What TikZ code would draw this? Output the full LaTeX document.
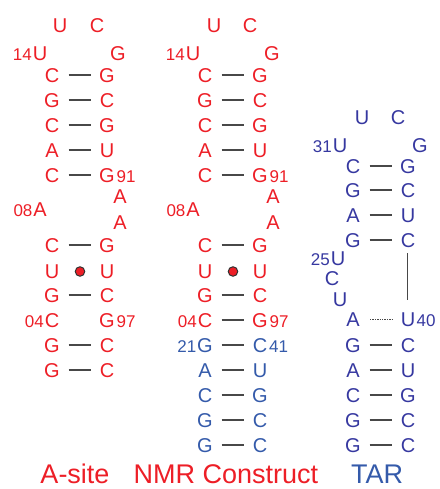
\documentclass[tikz,border=0pt]{standalone}
\usepackage{fontspec}
\setmainfont{Liberation Sans}
\definecolor{rnared}{RGB}{237,30,38}
\definecolor{rnablue}{RGB}{52,90,170}
\definecolor{tarblue}{RGB}{54,56,160}
\definecolor{bondgray}{RGB}{72,72,72}
\begin{document}
\begin{tikzpicture}[x=1pt,y=-1pt,
  nt/.style={font=\fontsize{20}{20}\selectfont, inner sep=0pt,
             text height=14.3pt, text depth=0pt},
  numl/.style={font=\fontsize{17}{17}\selectfont, inner sep=0pt, anchor=base east},
  numr/.style={font=\fontsize{17}{17}\selectfont, inner sep=0pt, anchor=base west},
  bond/.style={draw=bondgray, line width=1.3pt, shorten <=16.5pt, shorten >=16.5pt},
  weakbond/.style={draw=bondgray, line width=0.9pt, dash pattern=on 1.3pt off 1.1pt,
                   shorten <=17pt, shorten >=16pt},
  wobble/.style={circle, inner sep=0pt, minimum size=9.5pt, fill=rnared,
                 draw=black!80, line width=1pt},
  title/.style={font=\fontsize{27}{27}\selectfont, inner sep=0pt, anchor=base}]
\useasboundingbox (0,0) rectangle (439,489);

% ---------------- A-site (red) ----------------
\begin{scope}[rnared]
  \node[nt] (aLU) at (60,25) {U};
  \node[nt] (aLC) at (97,25) {C};
  \node[nt] (aU14) at (40,53) {U};
  \node[numl] (a14) at ([xshift=-0.5pt]aU14.base west) {14};
  \node[nt] (aG) at (118,53) {G};
  \foreach \y/\l/\r [count=\i] in {75/C/G,100/G/C,125/C/G,150/A/U,175/C/G}{
    \node[nt] (aL\i) at (52,\y) {\l};
    \node[nt] (aR\i) at (107,\y) {\r};
    \draw[bond] (aL\i.center) -- (aR\i.center);
  }
  \node[numr] (a91) at ([xshift=1.5pt]aR5.base east) {91};
  \node[nt] (aA1) at (120,196) {A};
  \node[nt] (aA08) at (40,209) {A};
  \node[numl] (a08) at ([xshift=-0.5pt]aA08.base west) {08};
  \node[nt] (aA2) at (120,222) {A};
  \foreach \y/\l/\r [count=\i from 6] in {245/C/G,271/U/U,295/G/C,320/C/G,345/G/C,370/G/C}{
    \node[nt] (aL\i) at (52,\y) {\l};
    \node[nt] (aR\i) at (107,\y) {\r};
  }
  \foreach \i in {6,8,10,11}{ \draw[bond] (aL\i.center) -- (aR\i.center); }
  \node[wobble] (aGU) at (80,271.5) {};
  \node[numl] (a04) at ([xshift=-0.5pt]aL9.base west) {04};
  \node[numr] (a97) at ([xshift=1.5pt]aR9.base east) {97};
\end{scope}

% ---------------- NMR construct (red + blue) ----------------
\begin{scope}[rnared]
  \node[nt] (bLU) at (214,25) {U};
  \node[nt] (bLC) at (250,25) {C};
  \node[nt] (bU14) at (193,53) {U};
  \node[numl] (b14) at ([xshift=-0.5pt]bU14.base west) {14};
  \node[nt] (bG) at (272,53) {G};
  \foreach \y/\l/\r [count=\i] in {75/C/G,100/G/C,125/C/G,150/A/U,175/C/G}{
    \node[nt] (bL\i) at (205,\y) {\l};
    \node[nt] (bR\i) at (260,\y) {\r};
    \draw[bond] (bL\i.center) -- (bR\i.center);
  }
  \node[numr] (b91) at ([xshift=1.5pt]bR5.base east) {91};
  \node[nt] (bA1) at (273,196) {A};
  \node[nt] (bA08) at (193,209) {A};
  \node[numl] (b08) at ([xshift=-0.5pt]bA08.base west) {08};
  \node[nt] (bA2) at (273,222) {A};
  \foreach \y/\l/\r [count=\i from 6] in {245/C/G,271/U/U,295/G/C,320/C/G}{
    \node[nt] (bL\i) at (205,\y) {\l};
    \node[nt] (bR\i) at (260,\y) {\r};
  }
  \foreach \i in {6,8,9}{ \draw[bond] (bL\i.center) -- (bR\i.center); }
  \node[wobble] (bGU) at (233,271.5) {};
  \node[numl] (b04) at ([xshift=-0.5pt]bL9.base west) {04};
  \node[numr] (b97) at ([xshift=1.5pt]bR9.base east) {97};
\end{scope}
\begin{scope}[rnablue]
  \foreach \y/\l/\r [count=\i from 10] in {345/G/C,370/A/U,395/C/G,420/G/C,445/G/C}{
    \node[nt] (bL\i) at (205,\y) {\l};
    \node[nt] (bR\i) at (260,\y) {\r};
    \draw[bond] (bL\i.center) -- (bR\i.center);
  }
  \node[numl] (b21) at ([xshift=-0.5pt]bL10.base west) {21};
  \node[numr] (b41) at ([xshift=1.5pt]bR10.base east) {41};
\end{scope}

% ---------------- TAR (blue) ----------------
\begin{scope}[tarblue]
  \node[nt] (cLU) at (362,117) {U};
  \node[nt] (cLC) at (398,117) {C};
  \node[nt] (cU31) at (340,145) {U};
  \node[numl] (c31) at ([xshift=-0.5pt]cU31.base west) {31};
  \node[nt] (cG) at (420,145) {G};
  \foreach \y/\l/\r [count=\i] in {166/C/G,190/G/C,215/A/U,240/G/C}{
    \node[nt] (cL\i) at (353,\y) {\l};
    \node[nt] (cR\i) at (408,\y) {\r};
    \draw[bond] (cL\i.center) -- (cR\i.center);
  }
  \node[nt] (cU25) at (338,258) {U};
  \node[numl] (c25) at ([xshift=-0.5pt]cU25.base west) {25};
  \node[nt] (cC24) at (332,278) {C};
  \node[nt] (cU23) at (340,299) {U};
  \node[nt] (cL5) at (353,319) {A};
  \node[nt] (cR5) at (408,319) {U};
  \node[numr] (c40) at ([xshift=1pt]cR5.base east) {40};
  \draw[weakbond] (cL5.center) -- (cR5.center);
  \draw[draw=bondgray, line width=1pt, shorten <=6pt, shorten >=12pt]
    ([xshift=-1pt]cR4.south) -- ([xshift=-1pt]cR5.north);
  \foreach \y/\l/\r [count=\i from 6] in {345/G/C,370/A/U,395/C/G,420/G/C,445/G/C}{
    \node[nt] (cL\i) at (353,\y) {\l};
    \node[nt] (cR\i) at (408,\y) {\r};
    \draw[bond] (cL\i.center) -- (cR\i.center);
  }
\end{scope}

% ---------------- captions ----------------
\node[title, text=rnared] (tA) at (75,483) {A-site};
\node[title, text=rnared] (tN) at (226,483) {NMR Construct};
\node[title, text=rnablue] (tT) at (377,483) {TAR};
\end{tikzpicture}
\end{document}
